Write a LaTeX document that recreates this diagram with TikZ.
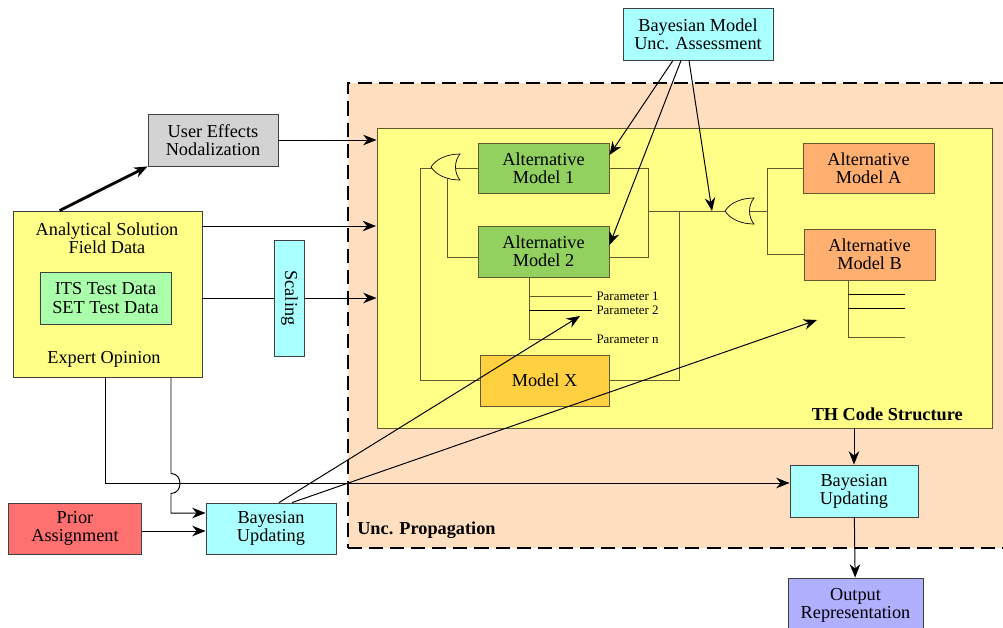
\documentclass[tikz,border=0pt]{standalone}
\usepackage{fontspec}
\setmainfont{Liberation Serif}
\usetikzlibrary{arrows.meta}
\definecolor{peach}{RGB}{255,223,192}
\definecolor{thyel}{RGB}{255,255,136}
\definecolor{cyanbox}{RGB}{170,255,255}
\definecolor{graybox}{RGB}{211,211,211}
\definecolor{itsgreen}{RGB}{170,255,170}
\definecolor{altgreen}{RGB}{146,208,96}
\definecolor{modxgold}{RGB}{255,208,64}
\definecolor{altorange}{RGB}{255,176,112}
\definecolor{priorred}{RGB}{255,112,112}
\definecolor{outblue}{RGB}{176,176,255}
\definecolor{wirecol}{RGB}{95,90,45}

\begin{document}
\begin{tikzpicture}[x=0.025cm, y=-0.025cm,
    box/.style={draw=black!75, line width=0.6pt, align=center, inner sep=0pt,
      font=\fontsize{13}{12.9}\selectfont},
    model/.style={box, draw=wirecol, minimum width=3.275cm, minimum height=1.275cm},
    txt/.style={align=center, font=\fontsize{13}{12.9}\selectfont},
    wire/.style={draw=wirecol, line width=0.6pt},
    arr/.style={draw=black, line width=0.7pt, -{Stealth[length=9.5pt,width=7.5pt]}},
    lbl/.style={font=\bfseries\fontsize{13}{13}\selectfont, inner sep=0pt},
    par/.style={font=\fontsize{9.2}{10}\selectfont, inner sep=3pt, anchor=west},
    pics/orgate/.style={code={
      \draw[black, line width=0.5pt, fill=thyel] (29,-13) .. controls (16,-13) and (5,-8) .. (0,0)
        .. controls (5,8) and (16,13) .. (29,13) .. controls (23,6) and (23,-6) .. (29,-13) -- cycle;
      \coordinate (-in) at (16,12);
      \coordinate (-out) at (0,0);
      \coordinate (-back) at (25,0);
    }}]
  \useasboundingbox (0,0) rectangle (1003,627);

  \node[box, fill=peach, draw=black, line width=1.5pt, dash pattern=on 10pt off 5pt,
    minimum width=16.625cm, minimum height=11.625cm] (prop) at (680.5,315.5) {};
  \node[box, fill=thyel, draw=wirecol, minimum width=15.375cm, minimum height=7.5cm] (th) at (684.5,278) {};
  \node[lbl, anchor=east] (thlbl) at (963,414) {TH Code Structure};
  \node[lbl, anchor=west] (proplbl) at (357,530) {Unc. Propagation};

  \node[box, fill=cyanbox, minimum width=3.75cm, minimum height=1.3cm] (bma) at (698,34) {Bayesian Model\\Unc. Assessment};
  \node[box, fill=graybox, minimum width=3.25cm, minimum height=1.3cm] (user) at (213,140) {User Effects\\Nodalization};
  \node[box, fill=thyel, minimum width=4.725cm, minimum height=4.15cm] (src) at (107.5,294) {};
  \node[txt] (ana) at (107,238.5) {Analytical Solution\\Field Data};
  \node[box, fill=itsgreen, minimum width=3.275cm, minimum height=1.3cm] (its) at (105.5,298) {ITS Test Data\\SET Test Data};
  \node[txt] (expert) at (104,359) {Expert Opinion};
  \node[box, fill=cyanbox, rotate=-90, minimum width=2.9cm, minimum height=0.75cm] (scal) at (289.5,298) {Scaling};

  \node[model, fill=altgreen, minimum height=1.25cm] (alt1) at (543.5,168) {Alternative\\Model 1};
  \node[model, fill=altgreen] (alt2) at (543.5,251.5) {Alternative\\Model 2};
  \node[model, fill=modxgold, minimum width=3.225cm] (modx) at (544.5,380.5) {Model X};
  \node[model, fill=altorange, minimum height=1.25cm] (alta) at (868.5,168) {Alternative\\Model A};
  \node[model, fill=altorange] (altb) at (869.5,254.5) {Alternative\\Model B};

  \node[box, fill=priorred, minimum width=3.325cm, minimum height=1.275cm] (prior) at (75,528.5) {Prior\\Assignment};
  \node[box, fill=cyanbox, minimum width=3.25cm, minimum height=1.275cm] (bul) at (271,528.5) {Bayesian\\Updating};
  \node[box, fill=cyanbox, minimum width=3.2cm, minimum height=1.3cm] (bur) at (854,491) {Bayesian\\Updating};
  \node[box, fill=outblue, minimum width=3.375cm, minimum height=1.35cm] (out) at (855.5,605) {Output\\Representation};

  \node[par] (p1) at (592,296) {Parameter 1};
  \node[par] (p2) at (592,310) {Parameter 2};
  \node[par] (pn) at (592,339) {Parameter n};

  \coordinate (lx) at (420,380.5);
  \coordinate (rj) at (648,211);
  \coordinate (mj) at (679,211);
  \coordinate (tj) at (712,211);
  \coordinate (rr) at (767,211);
  \coordinate (pv) at (529,339);
  \coordinate (bv) at (848,337);
  \coordinate (b1) at (905,294);
  \coordinate (b2) at (905,308);
  \coordinate (bn) at (905,337);
  \coordinate (in1) at (376,226);
  \coordinate (d1) at (105,483);
  \coordinate (d2) at (171,513);
  \coordinate (tp2) at (580,316);
  \coordinate (tpb) at (817,320);

  \draw[wire] (alt1.west) -| (lx) -- (modx.west);
  \pic (g1) at (431,167) {orgate};
  \pic (g2) at (725,211) {orgate};
  \draw[wire] (g1-in) |- ([yshift=-0.16cm]alt2.west);
  \draw[wire] (alt1.east) -| (rj) |- ([yshift=-0.16cm]alt2.east);
  \draw[wire] (rj) -- (g2-out);
  \draw[wire] (mj) |- (modx.east);
  \draw[wire] (g2-back) -- (rr);
  \draw[wire] (alta.west) -| (rr) |- (altb.west);
  \draw[wire] (pv |- alt2.south) -- (pv) -- (pn.west);
  \draw[wire] (pv |- p1) -- (p1.west);
  \draw[black, line width=0.6pt] (pv |- p2) -- (p2.west);
  \draw[wire] (bv |- altb.south) -- (bv) -- (bn);
  \draw[black, line width=0.6pt] (bv |- b1) -- (b1);
  \draw[black, line width=0.6pt] (bv |- b2) -- (b2);

  \draw[arr] (user.east) -- (user.east -| th.west);
  \draw[arr] (src.east |- in1) -- (in1);
  \draw[black, line width=0.7pt] (src.east |- scal) -- (scal.south);
  \draw[arr] (scal.north) -- (scal -| th.west);
  \draw[arr, line width=2pt] ([xshift=1.175cm]src.north west) -- (user.south west);
  \draw[arr] (src.south -| d1) -- (d1) -- (d1 -| bur.west);
  \draw[arr] (src.south -| d2) -- ++(0,96) .. controls +(12,0) and +(12,0) .. ++(0,20) -- (d2) -- (d2 -| bul.west);
  \draw[arr] (prior.east |- 0,531) -- (bul.west |- 0,531);

  \draw[arr] ([xshift=-0.625cm]bma.south) -- ([yshift=0.325cm]alt1.east);
  \draw[arr] ([xshift=-0.425cm]bma.south) -- ([yshift=0.16cm]alt2.east);
  \draw[arr] ([xshift=-0.225cm]bma.south) -- (tj);
  \draw[arr] ([xshift=0.2cm]bul.north) -- (tp2);
  \draw[arr] ([xshift=0.525cm]bul.north) -- (tpb);
  \draw[arr] (th.south -| bur) -- (bur);
  \draw[arr] (bur) -- (out);
\end{tikzpicture}
\end{document}
